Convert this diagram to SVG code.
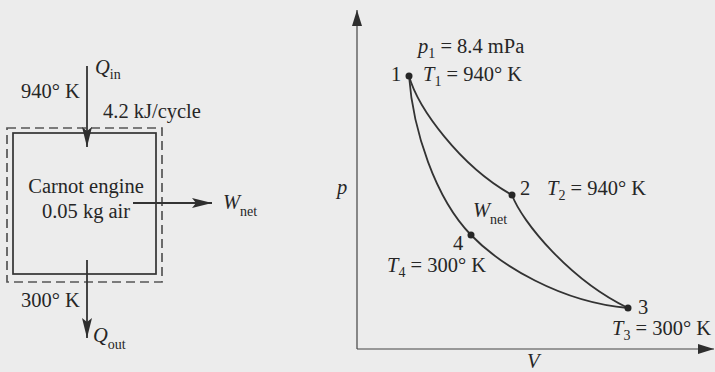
<svg xmlns="http://www.w3.org/2000/svg" width="715" height="372" viewBox="0 0 715 372">
<defs>
<style>
text{font-family:"Liberation Serif","Times New Roman",serif;font-size:20.5px;fill:#262626}
.i{font-style:italic}
.sub{font-size:14px;font-style:normal}
.ln{stroke:#333;stroke-width:1.8;fill:none}
.ax{stroke:#444;stroke-width:1.2;fill:none}
.dot{fill:#262626}
</style>
<marker id="ah" viewBox="0 0 20 10" refX="20" refY="5" markerWidth="20" markerHeight="10" markerUnits="userSpaceOnUse" orient="auto">
<path d="M0,0 L20,5 L0,10 L4,5 Z" fill="#2e2e2e"/>
</marker>
<marker id="axh" viewBox="0 0 16 10" refX="16" refY="5" markerWidth="16" markerHeight="10" markerUnits="userSpaceOnUse" orient="auto">
<path d="M0,0 L16,5 L0,10 Z" fill="#2e2e2e"/>
</marker>
</defs>
<rect width="715" height="372" fill="#ececec"/>

<g id="engine">
<rect x="7" y="128" width="155" height="154" fill="none" stroke="#555" stroke-width="1.7" stroke-dasharray="9,5"/>
<rect x="13" y="133" width="143" height="141" fill="none" stroke="#333" stroke-width="1.7"/>
<text x="86" y="193" text-anchor="middle">Carnot engine</text>
<text x="86" y="218" text-anchor="middle">0.05 kg air</text>
</g>

<g id="connectors">
<line class="ln" x1="87" y1="66" x2="87" y2="147" marker-end="url(#ah)"/>
<line class="ln" x1="133" y1="203" x2="212" y2="203" marker-end="url(#ah)"/>
<line class="ln" x1="87" y1="260" x2="87" y2="338" marker-end="url(#ah)"/>
</g>

<g id="qin">
<text class="i" x="95" y="74">Q<tspan class="sub" dy="5">in</tspan></text>
<text x="21" y="98">940° K</text>
<text x="103" y="118">4.2 kJ/cycle</text>
</g>
<g id="wnet">
<text class="i" x="223" y="209">W<tspan class="sub" dy="7">net</tspan></text>
</g>
<g id="qout">
<text x="21" y="307">300° K</text>
<text class="i" x="93" y="342">Q<tspan class="sub" dy="7">out</tspan></text>
</g>

<g id="axes">
<line class="ax" x1="357" y1="349" x2="357" y2="10" marker-end="url(#axh)"/>
<line class="ax" x1="357" y1="349" x2="714" y2="349" marker-end="url(#axh)"/>
<text class="i" x="337" y="194">p</text>
<text class="i" x="527" y="368">V</text>
</g>

<g id="cycle">
<path class="ln" d="M409,76 C418,108 460,166 512,195"/>
<path class="ln" d="M512,195 C522,222 570,280 628,308"/>
<path class="ln" d="M409,76 C413,130 435,198 471,235"/>
<path class="ln" d="M471,235 C500,265 560,302 628,308"/>
<text class="i" x="473" y="217">W<tspan class="sub" dy="7">net</tspan></text>
</g>

<g id="state1">
<circle class="dot" cx="409" cy="76" r="3.5"/>
<text x="391" y="81">1</text>
<text class="i" x="418" y="53">p<tspan class="sub" dy="5">1</tspan><tspan dy="-5" style="font-style:normal"> = 8.4 mPa</tspan></text>
<text class="i" x="423" y="81">T<tspan class="sub" dy="5">1</tspan><tspan dy="-5" style="font-style:normal"> = 940° K</tspan></text>
</g>
<g id="state2">
<circle class="dot" cx="512" cy="195" r="3.5"/>
<text x="520" y="195">2</text>
<text class="i" x="547" y="195">T<tspan class="sub" dy="5">2</tspan><tspan dy="-5" style="font-style:normal"> = 940° K</tspan></text>
</g>
<g id="state3">
<circle class="dot" cx="628" cy="308" r="3.5"/>
<text x="638" y="314">3</text>
<text class="i" x="612" y="335">T<tspan class="sub" dy="5">3</tspan><tspan dy="-5" style="font-style:normal"> = 300° K</tspan></text>
</g>
<g id="state4">
<circle class="dot" cx="471" cy="235" r="3.5"/>
<text x="453" y="250">4</text>
<text class="i" x="387" y="272">T<tspan class="sub" dy="5">4</tspan><tspan dy="-5" style="font-style:normal"> = 300° K</tspan></text>
</g>
</svg>
